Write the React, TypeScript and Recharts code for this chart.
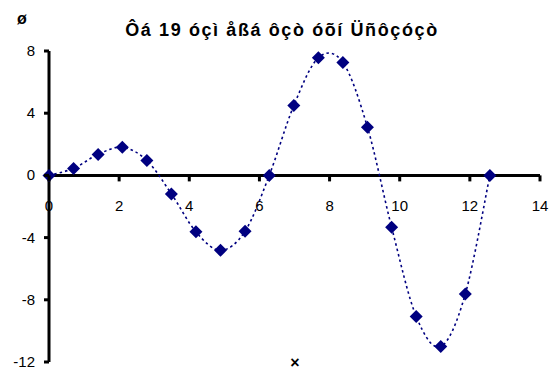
import { ComposedChart, Line, XAxis, YAxis, ReferenceLine } from "recharts";

// sample positions and values of the curve
const xs = [0, 0.7, 1.4, 2.09, 2.79, 3.49, 4.19, 4.89, 5.59, 6.28, 6.98, 7.68, 8.38, 9.08, 9.77, 10.47, 11.17, 11.87, 12.57];
const ys = [0, 0.45, 1.35, 1.81, 0.96, -1.19, -3.63, -4.82, -3.59, 0, 4.49, 7.56, 7.26, 3.1, -3.34, -9.07, -11.0, -7.63, 0];

const xTicks = [0, 2, 4, 6, 8, 10, 12, 14];
const yTicks = [8, 4, 0, -4, -8, -12];

const title = "Ôá 19 óçì åßá ôçò óõí Üñôçóçò";
const yLabel = "ø";
const xLabel = "×";

const data = xs.map((x, i) => ({ x, y: ys[i] }));

const W = 552;
const H = 372;
const margin = { top: 51, right: 12, bottom: 9, left: 0 };
const Y_MIN = -12;
const Y_MAX = 8;
const NAVY = "#000080";
const FONT = "'Liberation Sans', Arial, sans-serif";

// x axis sits on y = 0, so shift the tick labels up from the bottom edge
const plotH = H - margin.top - margin.bottom - 1;
const zeroY = margin.top + (plotH * Y_MAX) / (Y_MAX - Y_MIN);

// smoothed line: cubic beziers with catmull-rom style control points
function smoothCurve(context: any) {
  let pts: number[][] = [];
  return {
    areaStart() {},
    areaEnd() {},
    lineStart() {
      pts = [];
    },
    point(x: number, y: number) {
      pts.push([+x, +y]);
    },
    lineEnd() {
      const n = pts.length;
      if (!n) return;
      context.moveTo(pts[0][0], pts[0][1]);
      for (let i = 0; i < n - 1; i++) {
        const p0 = pts[Math.max(i - 1, 0)];
        const p1 = pts[i];
        const p2 = pts[i + 1];
        const p3 = pts[Math.min(i + 2, n - 1)];
        context.bezierCurveTo(
          p1[0] + (p2[0] - p0[0]) / 6,
          p1[1] + (p2[1] - p0[1]) / 6,
          p2[0] - (p3[0] - p1[0]) / 6,
          p2[1] - (p3[1] - p1[1]) / 6,
          p2[0],
          p2[1]
        );
      }
    },
  };
}

function XTick(props: any) {
  const { x, payload } = props;
  return (
    <g>
      <line x1={x} x2={x} y1={zeroY} y2={zeroY + 6} stroke="#000" strokeWidth={3} />
      <text x={x} y={zeroY + 36} textAnchor="middle" fontSize={15} fontFamily={FONT} fill="#000">
        {payload.value}
      </text>
    </g>
  );
}

function YTick(props: any) {
  const { y, payload } = props;
  const ax = 49;
  return (
    <g>
      <line x1={ax - 5} x2={ax} y1={y} y2={y} stroke="#000" strokeWidth={3} />
      <text x={ax - 14} y={y + 5} textAnchor="end" fontSize={15} fontFamily={FONT} fill="#000">
        {payload.value}
      </text>
    </g>
  );
}

function Diamond(props: any) {
  const { cx, cy, index } = props;
  const r = 6.5;
  return (
    <polygon
      key={index}
      points={`${cx},${cy - r} ${cx + r},${cy} ${cx},${cy + r} ${cx - r},${cy}`}
      fill={NAVY}
    />
  );
}

export default function App() {
  return (
    <div style={{ position: "absolute", left: 0, top: 0, width: W, height: H, background: "#fff" }}>
      <ComposedChart width={W} height={H} data={data} margin={margin}>
        <XAxis
          dataKey="x"
          type="number"
          domain={[0, 14]}
          ticks={xTicks}
          axisLine={false}
          tickLine={false}
          height={1}
          tick={<XTick />}
          interval={0}
        />
        <YAxis
          type="number"
          domain={[Y_MIN, Y_MAX]}
          ticks={yTicks}
          width={49}
          axisLine={false}
          tickLine={false}
          tick={<YTick />}
          interval={0}
        />
        <ReferenceLine x={0} stroke="#000" strokeWidth={3} />
        <ReferenceLine y={0} stroke="#000" strokeWidth={3} />
        <Line
          dataKey="y"
          type={smoothCurve as any}
          stroke={NAVY}
          strokeWidth={1.6}
          strokeDasharray="2.5 3"
          dot={Diamond}
          activeDot={false}
          isAnimationActive={false}
        />
      </ComposedChart>
      <svg width={W} height={H} style={{ position: "absolute", left: 0, top: 0, pointerEvents: "none" }}>
        <text x={282} y={36} textAnchor="middle" fontSize={18} fontWeight="bold" fontFamily={FONT} letterSpacing={1.6}>
          {title}
        </text>
        <text x={22} y={24} textAnchor="middle" fontSize={16} fontWeight="bold" fontFamily={FONT}>
          {yLabel}
        </text>
        <text x={295} y={368} textAnchor="middle" fontSize={16} fontWeight="bold" fontFamily={FONT}>
          {xLabel}
        </text>
      </svg>
    </div>
  );
}
